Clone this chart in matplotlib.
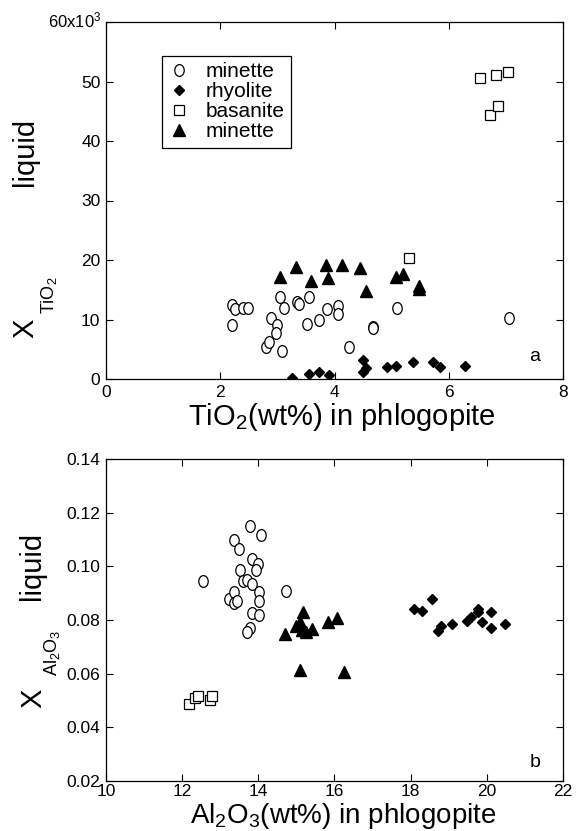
import numpy as np
import matplotlib
matplotlib.use("Agg")
import matplotlib.pyplot as plt
from matplotlib.path import Path

plt.rcParams['font.family'] = ['Liberation Sans', 'DejaVu Sans']
plt.rcParams['mathtext.fontset'] = 'custom'
plt.rcParams['mathtext.rm'] = 'Liberation Sans'
plt.rcParams['mathtext.it'] = 'Liberation Sans'
plt.rcParams['mathtext.sf'] = 'Liberation Sans'

### DATA - panel a (TiO2, y in units of 1e-3)
a_min_x = [2.21, 2.26, 2.40, 2.48, 2.20, 2.80, 2.86, 2.89, 2.99, 2.98, 3.05, 3.12, 3.08,
           3.34, 3.37, 3.55, 3.52, 3.72, 3.86, 4.06, 4.06, 4.25, 4.68, 4.68, 5.09, 7.06]
a_min_y = [12.4, 11.7, 11.9, 11.9, 9.0, 5.3, 6.2, 10.2, 9.1, 7.8, 13.8, 11.9, 4.7,
           13.0, 12.6, 13.8, 9.2, 10.0, 11.7, 12.2, 11.0, 5.4, 8.8, 8.5, 11.9, 10.2]
a_rhy_x = [3.25, 3.55, 3.73, 3.90, 4.50, 4.55, 4.50, 4.92, 5.08, 5.37, 5.72, 5.84, 6.29]
a_rhy_y = [0.2, 0.8, 1.2, 0.7, 3.2, 1.9, 1.2, 2.1, 2.2, 2.8, 2.8, 2.0, 2.2]
a_bas_x = [6.54, 6.82, 7.04, 6.72, 6.86, 5.31]
a_bas_y = [50.6, 51.1, 51.6, 44.4, 45.8, 20.3]
a_min2_x = [3.05, 3.32, 3.58, 3.85, 3.88, 4.14, 4.45, 4.56, 5.07, 5.20, 5.48, 5.48]
a_min2_y = [17.2, 18.9, 16.4, 19.2, 16.9, 19.1, 18.6, 14.8, 17.2, 17.6, 15.6, 15.1]

### DATA - panel b (Al2O3)
b_min_x = [12.56, 13.24, 13.35, 13.35, 13.44, 13.36, 13.50, 13.52, 13.61, 13.70, 13.78, 13.83,
           13.98, 13.94, 13.83, 14.03, 14.03, 13.83, 14.03, 13.77, 13.70, 14.07, 14.73]
b_min_y = [0.0944, 0.0878, 0.0906, 0.0863, 0.0869, 0.1099, 0.1064, 0.0985, 0.0944, 0.0950,
           0.1149, 0.1028, 0.1010, 0.0985, 0.0934, 0.0903, 0.0869, 0.0825, 0.0819, 0.0770,
           0.0757, 0.1115, 0.0909]
b_rhy_x = [18.09, 18.29, 18.57, 18.71, 18.79, 19.09, 19.47, 19.58, 19.77, 19.76, 19.88,
           20.10, 20.10, 20.49]
b_rhy_y = [0.0840, 0.0835, 0.0879, 0.0760, 0.0779, 0.0784, 0.0798, 0.0811, 0.0840, 0.0829,
           0.0792, 0.0828, 0.0772, 0.0784]
b_bas_x = [12.19, 12.33, 12.41, 12.74, 12.78]
b_bas_y = [0.0487, 0.0511, 0.0517, 0.0502, 0.0518]
b_min2_x = [14.69, 15.00, 15.10, 15.16, 15.14, 15.25, 15.42, 15.84, 16.06, 15.10, 16.26]
b_min2_y = [0.0748, 0.0776, 0.0794, 0.0828, 0.0763, 0.0755, 0.0767, 0.0791, 0.0807,
            0.0614, 0.0608]

legend_labels = ['minette', 'rhyolite', 'basanite', 'minette']

# tall ellipse marker like the original
uc = Path.unit_circle()
ellipse = Path(uc.vertices * np.array([0.8, 1.0]), uc.codes)

W, H = 578, 831
fig = plt.figure(figsize=(W / 100, H / 100), dpi=100)

def px(x0, y0, x1, y1):
    return [x0 / W, 1 - y1 / H, (x1 - x0) / W, (y1 - y0) / H]

def style(ax):
    ax.tick_params(direction='in', top=True, right=True, length=5, width=0.8,
                   labelsize=12.5, pad=4)
    for s in ax.spines.values():
        s.set_linewidth(0.9)

def draw(ax, mx, my, rx, ry, bx, by, tx, ty):
    ax.plot(mx, my, ls='none', marker=ellipse, ms=8.5, mfc='white', mec='black', mew=0.9,
            label=legend_labels[0])
    ax.plot(rx, ry, ls='none', marker='D', ms=5.0, mfc='black', mec='black',
            label=legend_labels[1])
    ax.plot(bx, by, ls='none', marker='s', ms=7.2, mfc='white', mec='black', mew=0.9,
            label=legend_labels[2])
    ax.plot(tx, ty, ls='none', marker='^', ms=8, mfc='black', mec='black',
            label=legend_labels[3])

### PANEL a
ax1 = fig.add_axes(px(106, 22, 563, 379))
draw(ax1, a_min_x, a_min_y, a_rhy_x, a_rhy_y, a_bas_x, a_bas_y, a_min2_x, a_min2_y)
ax1.set_xlim(0, 8)
ax1.set_ylim(0, 60)
ax1.set_xticks([0, 2, 4, 6, 8])
ax1.set_yticks([0, 10, 20, 30, 40, 50, 60])
ax1.set_yticklabels(['0', '10', '20', '30', '40', '50', ''])
style(ax1)
fig.text(101 / W, 1 - 27 / H, '60x10$^3$', fontsize=12, ha='right', va='baseline')
ax1.text(7.5, 3.8, 'a', fontsize=14, ha='center', va='center')
leg = ax1.legend(loc='upper left', bbox_to_anchor=(0.1225, 0.905), fontsize=15,
                 frameon=True, fancybox=False, edgecolor='black', framealpha=1,
                 handlelength=1.0, handletextpad=0.8, labelspacing=0.05,
                 borderpad=0.3, borderaxespad=0)
leg.get_frame().set_linewidth(0.9)

### PANEL b
ax2 = fig.add_axes(px(106, 459, 563, 781))
draw(ax2, b_min_x, b_min_y, b_rhy_x, b_rhy_y, b_bas_x, b_bas_y, b_min2_x, b_min2_y)
ax2.set_xlim(10, 22)
ax2.set_ylim(0.02, 0.14)
ax2.set_xticks([10, 12, 14, 16, 18, 20, 22])
ax2.set_yticks([0.02, 0.04, 0.06, 0.08, 0.10, 0.12, 0.14])
ax2.set_yticklabels(['0.02', '0.04', '0.06', '0.08', '0.10', '0.12', '0.14'])
style(ax2)
ax2.tick_params(axis='x', pad=2.5)
ax2.text(21.26, 0.027, 'b', fontsize=14, ha='center', va='center')

### AXIS LABELS
fig.text(342 / W, 1 - 425 / H, 'TiO$_2$(wt%) in phlogopite', fontsize=21,
         ha='center', va='baseline')
fig.text(343 / W, 1 - 823 / H, 'Al$_2$O$_3$(wt%) in phlogopite', fontsize=20,
         ha='center', va='baseline')

fig.text(25 / W, 1 - 328 / H, 'X', fontsize=21, rotation=90, ha='center', va='center')
fig.text(49 / W, 1 - 295 / H, 'TiO$_2$', fontsize=13, rotation=90, ha='center', va='center')
fig.text(25 / W, 1 - 152 / H, 'liquid', fontsize=21, rotation=90, ha='center', va='center')

fig.text(33 / W, 1 - 698 / H, 'X', fontsize=21, rotation=90, ha='center', va='center')
fig.text(52 / W, 1 - 653 / H, 'Al$_2$O$_3$', fontsize=13, rotation=90, ha='center', va='center')
fig.text(32 / W, 1 - 566 / H, 'liquid', fontsize=21, rotation=90, ha='center', va='center')

fig.savefig('out.png', dpi=100)
